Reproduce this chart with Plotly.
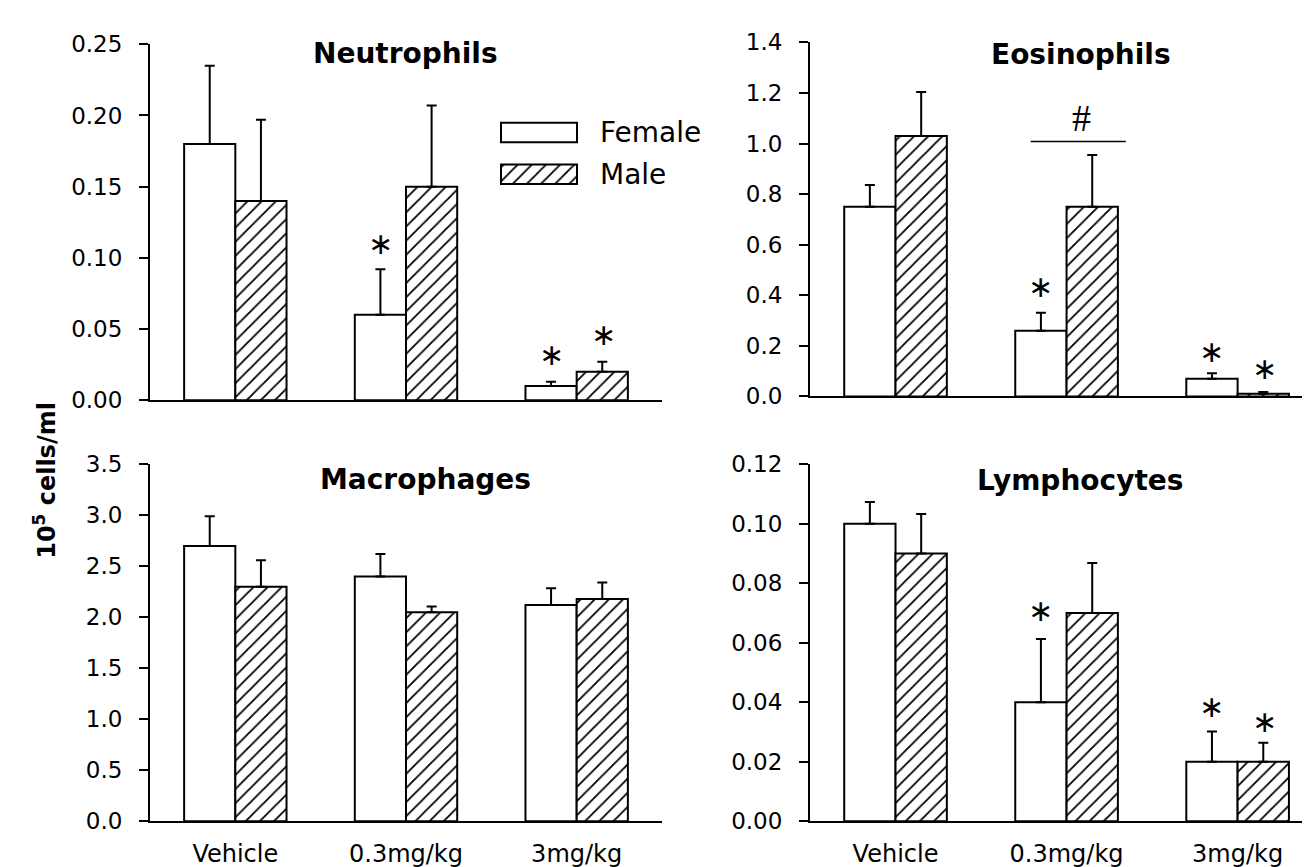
import plotly.graph_objects as go

# ---------------- data ----------------
categories = ["Vehicle", "0.3mg/kg", "3mg/kg"]
series_names = ["Female", "Male"]

neut_female = [0.18, 0.06, 0.01]
neut_female_sem = [0.055, 0.032, 0.003]
neut_male = [0.14, 0.15, 0.02]
neut_male_sem = [0.057, 0.057, 0.007]

eos_female = [0.75, 0.26, 0.07]
eos_female_sem = [0.086, 0.071, 0.022]
eos_male = [1.03, 0.75, 0.01]
eos_male_sem = [0.174, 0.205, 0.007]

mac_female = [2.70, 2.40, 2.12]
mac_female_sem = [0.29, 0.22, 0.165]
mac_male = [2.30, 2.05, 2.18]
mac_male_sem = [0.26, 0.056, 0.16]

lym_female = [0.10, 0.04, 0.02]
lym_female_sem = [0.0073, 0.0213, 0.0102]
lym_male = [0.09, 0.07, 0.02]
lym_male_sem = [0.0133, 0.0168, 0.0064]

panel_titles = ["Neutrophils", "Eosinophils", "Macrophages", "Lymphocytes"]
y_ranges = [0.25, 1.4, 3.5, 0.12]
y_dticks = [0.05, 0.2, 0.5, 0.02]
y_formats = [".2f", ".1f", ".1f", ".2f"]

# significance stars: (panel index, group index, sex index, y position)
star_panel = [0, 0, 0, 1, 1, 1, 3, 3, 3]
star_group = [1, 2, 2, 1, 2, 2, 1, 2, 2]
star_sex = [0, 0, 1, 0, 0, 1, 0, 0, 1]
star_y = [0.110, 0.032, 0.046, 0.436, 0.178, 0.110, 0.0707, 0.0386, 0.0334]

hash_y_line = 1.008
hash_y_text = 1.10

# ---------------- layout geometry ----------------
W, H = 1310, 867
FONT = "DejaVu Sans"

def px_x(p):
    return p / W

def px_y(p):
    return 1 - p / H

x_domains = [
    [px_x(142), px_x(654)],
    [px_x(802), 1.0],
    [px_x(142), px_x(654)],
    [px_x(802), 1.0],
]
x_ranges = [[-0.5, 2.5], [-0.5, 2.47], [-0.5, 2.5], [-0.5, 2.47]]
y_domains = [
    [px_y(391), px_y(24)],
    [px_y(387), px_y(22)],
    [px_y(825), px_y(457)],
    [px_y(825), px_y(457)],
]

panels = [
    (neut_female, neut_female_sem, neut_male, neut_male_sem),
    (eos_female, eos_female_sem, eos_male, eos_male_sem),
    (mac_female, mac_female_sem, mac_male, mac_male_sem),
    (lym_female, lym_female_sem, lym_male, lym_male_sem),
]

fig = go.Figure()

male_pattern = dict(shape="/", fgcolor="black", bgcolor="white", size=10,
                    solidity=0.18, fillmode="replace")

for i, (f, fs, m, ms) in enumerate(panels):
    ax = "" if i == 0 else str(i + 1)
    for s, (vals, sems) in enumerate([(f, fs), (m, ms)]):
        marker = dict(color="white", line=dict(color="black", width=2))
        if s == 1:
            marker["pattern"] = male_pattern
        fig.add_trace(go.Bar(
            x=categories, y=vals, name=series_names[s],
            marker=marker, showlegend=False,
            xaxis="x" + ax, yaxis="y" + ax,
            offsetgroup=str(s),
            error_y=dict(type="data", symmetric=False, array=sems,
                         arrayminus=[0] * len(sems), color="black",
                         thickness=2, width=5),
        ))

# legend keys drawn as bars on a small helper axis
legend_pos = [0, 1]
for s in range(2):
    marker = dict(color="white", line=dict(color="black", width=2))
    if s == 1:
        marker["pattern"] = male_pattern
    fig.add_trace(go.Bar(
        x=[1], y=[legend_pos[s]], orientation="h", width=0.465,
        marker=marker, showlegend=False, xaxis="x5", yaxis="y5",
        hoverinfo="skip",
    ))

layout = dict(
    width=W, height=H,
    margin=dict(l=0, r=0, t=0, b=0),
    paper_bgcolor="white", plot_bgcolor="white",
    barmode="group", bargap=0.4, bargroupgap=0,
    font=dict(family=FONT, color="black"),
    showlegend=False,
)

annotations = []
shapes = []
for i in range(4):
    sfx = "" if i == 0 else str(i + 1)
    layout["xaxis" + sfx] = dict(
        domain=x_domains[i], range=x_ranges[i], type="category",
        categoryorder="array", categoryarray=categories,
        anchor="y" + sfx, showline=True, linecolor="black", linewidth=2,
        ticks="", showgrid=False, zeroline=False,
        showticklabels=(i >= 2),
        tickfont=dict(family=FONT, size=24, color="black"),
        ticklabelstandoff=10,
    )
    layout["yaxis" + sfx] = dict(
        domain=y_domains[i], range=[0, y_ranges[i]],
        anchor="x" + sfx, showline=True, linecolor="black", linewidth=2,
        ticks="outside", ticklen=9, tickwidth=2, tickcolor="black",
        dtick=y_dticks[i], tick0=0, tickformat=y_formats[i],
        showgrid=False, zeroline=False,
        tickfont=dict(family=FONT, size=23, color="black"),
        ticklabelstandoff=12,
    )

layout["xaxis5"] = dict(domain=[px_x(492), px_x(570)], range=[-0.013, 1.013],
                        anchor="y5", visible=False, fixedrange=True)
layout["yaxis5"] = dict(domain=[px_y(179.5), px_y(93.5)], range=[1.5, -0.5],
                        anchor="x5", visible=False, fixedrange=True)

# panel titles
title_pos = [(397.5, 34), (1073, 35), (417, 473), (1072, 474)]
for t, (tx, ty) in zip(panel_titles, title_pos):
    annotations.append(dict(
        text="<b>%s</b>" % t, x=px_x(tx), y=px_y(ty), xref="paper", yref="paper",
        showarrow=False, xanchor="center", yanchor="middle",
        font=dict(family=FONT, size=28, color="black"),
    ))

# legend text
for s, ly in zip(range(2), [115, 158]):
    annotations.append(dict(
        text=series_names[s], x=px_x(590), y=px_y(ly), xref="paper", yref="paper",
        showarrow=False, xanchor="left", yanchor="middle",
        font=dict(family=FONT, size=28, color="black"),
    ))

# y axis title
annotations.append(dict(
    text="<b>10<sup>5</sup> cells/ml</b>", x=px_x(37), y=px_y(474),
    xref="paper", yref="paper", showarrow=False, textangle=-90,
    xanchor="center", yanchor="middle",
    font=dict(family=FONT, size=24, color="black"),
))

# stars
offsets = [-0.15, 0.16]
for p, g, s, yv in zip(star_panel, star_group, star_sex, star_y):
    sfx = "" if p == 0 else str(p + 1)
    annotations.append(dict(
        text="\u2217", x=g + offsets[s], y=yv, xref="x" + sfx, yref="y" + sfx,
        showarrow=False, xanchor="center", yanchor="middle",
        font=dict(family=FONT, size=30, color="black"),
    ))

# hash bar between female and male at 0.3mg/kg (eosinophils)
shapes.append(dict(type="line", xref="x2", yref="y2", x0=1 - 0.21, x1=1 + 0.346,
                   y0=hash_y_line, y1=hash_y_line, line=dict(color="black", width=1.5)))
annotations.append(dict(
    text="#", x=1 + 0.09, y=hash_y_text, xref="x2", yref="y2",
    showarrow=False, xanchor="center", yanchor="middle",
    font=dict(family="Liberation Serif", size=38, color="black"),
))

layout["annotations"] = annotations
layout["shapes"] = shapes
fig.update_layout(**layout)

fig.write_html("out.html")
